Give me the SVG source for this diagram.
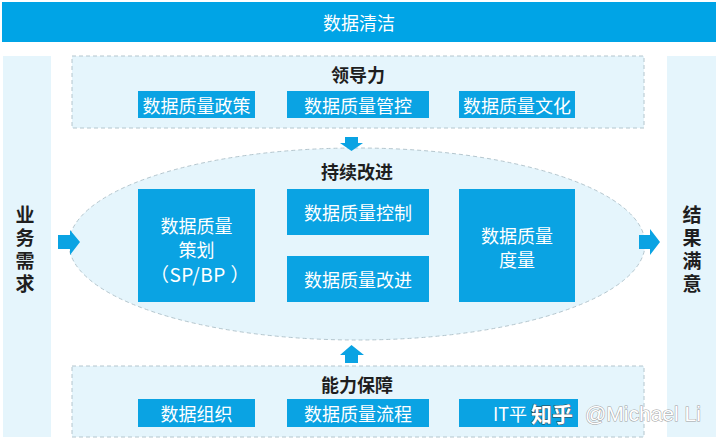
<svg xmlns="http://www.w3.org/2000/svg" width="720" height="442" viewBox="0 0 720 442">
<defs>
<style>
.bg{fill:#ffffff}
.band{fill:#00a4e6}
.side{fill:#e5f5fc}
.zone{fill:#e5f5fc;stroke:#b4c6ce;stroke-width:1;stroke-dasharray:4 3}
.box{fill:#0aa3e3}
.arrow{fill:#0aa3e3}
.t{font-family:"Noto Sans CJK SC","Noto Sans",sans-serif;text-anchor:middle;dominant-baseline:central}
.w{fill:#ffffff;font-size:18px}
.h{fill:#1e1e1e;font-size:18px;font-weight:bold}
.v{fill:#1e1e1e;font-size:19px;font-weight:bold;writing-mode:vertical-rl;letter-spacing:4px}
.wm{font-family:"Noto Sans CJK SC","Noto Sans",sans-serif;dominant-baseline:central}
</style>
</defs>
<rect class="bg" x="0" y="0" width="720" height="442"/>
<g id="banner">
<rect class="band" x="2" y="2" width="714" height="40"/>
<text class="t w" x="359" y="22">数据清洁</text>
</g>
<g id="business-demand">
<rect class="side" x="3" y="56" width="48" height="381"/>
<text class="t v" x="25" y="251">业务需求</text>
</g>
<g id="result-satisfaction">
<rect class="side" x="667" y="56" width="49" height="381"/>
<text class="t v" x="692" y="251">结果满意</text>
</g>
<g id="leadership">
<rect class="zone" x="72" y="56" width="572" height="72"/>
<text class="t h" x="358" y="74">领导力</text>
</g>
<g id="policy"><rect class="box" x="138" y="91" width="117" height="27"/><text class="t w" x="196.5" y="104.5">数据质量政策</text></g>
<g id="governance"><rect class="box" x="287" y="91" width="142" height="27"/><text class="t w" x="358" y="104.5">数据质量管控</text></g>
<g id="culture"><rect class="box" x="459" y="91" width="116" height="27"/><text class="t w" x="517" y="104.5">数据质量文化</text></g>
<g id="continuous-improvement">
<ellipse class="zone" cx="357" cy="244" rx="288" ry="96"/>
<text class="t h" x="357" y="171">持续改进</text>
</g>
<g id="planning"><rect class="box" x="138" y="189" width="117" height="113"/>
<text class="t w" x="196.5" y="225">数据质量</text>
<text class="t w" x="196.5" y="249">策划</text>
<text class="t w" x="200" y="273" style="font-size:19px;letter-spacing:0.5px">（SP/BP ）</text></g>
<g id="control"><rect class="box" x="287" y="189" width="142" height="46"/><text class="t w" x="358" y="212">数据质量控制</text></g>
<g id="improve"><rect class="box" x="287" y="256" width="142" height="46"/><text class="t w" x="358" y="279">数据质量改进</text></g>
<g id="measure"><rect class="box" x="459" y="189" width="116" height="113"/>
<text class="t w" x="517" y="235">数据质量</text>
<text class="t w" x="517" y="259">度量</text></g>
<g id="capability">
<rect class="zone" x="72" y="366" width="572" height="71"/>
<text class="t h" x="357" y="384">能力保障</text>
</g>
<g id="organization"><rect class="box" x="138" y="399" width="117" height="28"/><text class="t w" x="196.5" y="413">数据组织</text></g>
<g id="process"><rect class="box" x="287" y="399" width="142" height="28"/><text class="t w" x="358" y="413">数据质量流程</text></g>
<g id="it-platform"><rect class="box" x="459" y="399" width="119" height="28"/><text class="t w" x="493" y="413" style="text-anchor:start">IT平</text></g>
<g id="connectors">
<polygon class="arrow" points="345,137 358,137 358,143 363,143 351.5,151 340,143 345,143"/>
<polygon class="arrow" points="351.5,345 364,355 358,355 358,363 345,363 345,355 340,355"/>
<polygon class="arrow" points="58,235 70,235 70,230 80,242 70,255 70,249 58,249"/>
<polygon class="arrow" points="639,235 650,235 650,229 660,242 650,255 650,249 639,249"/>
</g>
<g id="watermark">
<text class="wm" x="531" y="413" font-size="21" font-weight="bold" fill="#ffffff" stroke="#3a3a3a" stroke-width="0.8" paint-order="stroke">知乎</text>
<text class="wm" x="585" y="413" font-size="21" fill="#ffffff" stroke="#a0a0a0" stroke-width="1" paint-order="stroke" style="font-family:'Liberation Sans',sans-serif">@Michael Li</text>
</g>
</svg>
